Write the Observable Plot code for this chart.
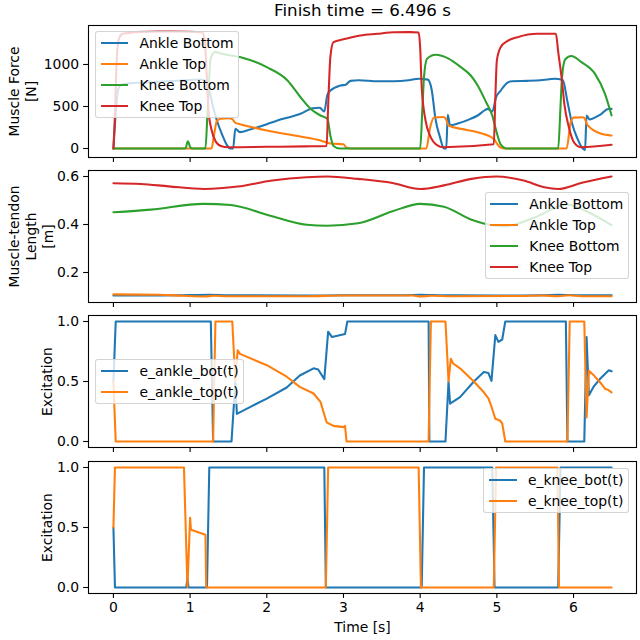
<!DOCTYPE html>
<html><head><meta charset="utf-8">
<script src="https://cdn.jsdelivr.net/npm/d3@7"></script>
<script src="https://cdn.jsdelivr.net/npm/@observablehq/plot@0.6"></script>
<style>
body{margin:0;background:#fff;}
#fig{position:relative;width:640px;height:640px;font-family:"DejaVu Sans",sans-serif;overflow:hidden;}
.panel{position:absolute;left:0;}
.legend{position:absolute;background:rgba(255,255,255,0.8);border:1px solid rgba(204,204,204,0.85);border-radius:3px;padding:0.5px 4.6px;font-size:13.9px;color:#000;white-space:nowrap;}
.row{display:flex;align-items:center;height:21px;}
.handle{width:27.8px;height:2.1px;margin-right:11.1px;flex:none;}
</style></head><body><div id="fig"></div>
<script>
// ---------- data ----------
const title = "Finish time = 6.496 s";
const xTicks = [0, 1, 2, 3, 4, 5, 6];
const forceTicks = [0, 500, 1000];
const lengthTicks = [0.2, 0.4, 0.6];
const excTicks = [0, 0.5, 1.0];
const muscleNames = ["Ankle Bottom", "Ankle Top", "Knee Bottom", "Knee Top"];
const ankleExcNames = ["e_ankle_bot(t)", "e_ankle_top(t)"];
const kneeExcNames = ["e_knee_bot(t)", "e_knee_top(t)"];
const colors = ["#1f77b4", "#ff7f0e", "#2ca02c", "#d62728"];

// Muscle force [N] : [t, F]
const ankleBotForce = [[0,0],[0.03,420],[0.06,700],[0.1,760],[0.2,775],[0.4,785],[0.7,800],[1.0,815],[1.15,822],[1.2,805],[1.25,690],[1.3,490],[1.35,330],[1.42,160],[1.48,40],[1.52,0],[1.56,0],[1.59,235],[1.65,195],[1.78,225],[2.0,290],[2.2,350],[2.44,413],[2.6,480],[2.69,485],[2.75,440],[2.79,640],[2.83,690],[2.96,750],[3.03,760],[3.09,805],[3.2,812],[3.45,800],[3.66,800],[3.85,812],[3.98,830],[4.1,820],[4.15,700],[4.2,350],[4.26,130],[4.31,0],[4.34,0],[4.36,400],[4.39,275],[4.5,300],[4.65,350],[4.75,393],[4.85,460],[4.88,472],[4.94,440],[4.99,610],[5.05,690],[5.14,785],[5.2,800],[5.4,805],[5.6,815],[5.75,830],[5.86,815],[5.92,560],[5.98,300],[6.05,120],[6.11,10],[6.15,-20],[6.17,393],[6.21,345],[6.3,380],[6.36,410],[6.45,470],[6.496,472]];
const ankleTopForce = [[0,0],[1.28,0],[1.31,150],[1.35,330],[1.4,355],[1.5,362],[1.55,350],[1.59,305],[1.65,290],[2.0,214],[2.44,143],[2.7,95],[2.83,60],[3.0,51],[3.04,8],[3.1,0],[4.08,0],[4.13,250],[4.18,370],[4.3,375],[4.33,360],[4.37,274],[4.53,234],[4.75,194],[4.96,115],[5.0,60],[5.05,10],[5.1,0],[5.91,0],[5.96,300],[6.0,368],[6.12,372],[6.15,350],[6.18,280],[6.36,175],[6.496,155]];
const kneeBotForce = [[0,0],[0.94,0],[0.97,87],[1.0,20],[1.02,0],[1.2,0],[1.23,500],[1.27,1080],[1.33,1150],[1.4,1130],[1.66,1087],[2.0,968],[2.27,810],[2.44,610],[2.57,472],[2.7,393],[2.79,353],[2.83,150],[2.87,30],[2.95,0],[4.0,0],[4.03,500],[4.05,850],[4.09,1067],[4.2,1115],[4.37,1070],[4.53,968],[4.66,869],[4.75,750],[4.86,551],[4.94,393],[4.99,218],[5.05,50],[5.13,0],[5.8,0],[5.83,500],[5.85,850],[5.89,1060],[5.97,1100],[6.1,1030],[6.28,889],[6.41,651],[6.496,393]];
const kneeTopForce = [[0,0],[0.02,400],[0.04,1000],[0.07,1300],[0.12,1365],[0.3,1385],[0.6,1392],[1.0,1390],[1.15,1385],[1.19,1300],[1.22,800],[1.24,450],[1.28,220],[1.33,90],[1.4,30],[1.5,15],[2.0,20],[2.5,25],[2.78,30],[2.8,500],[2.83,1100],[2.87,1265],[3.0,1300],[3.11,1325],[3.22,1345],[3.44,1365],[3.66,1384],[3.87,1385],[3.98,1380],[4.0,1200],[4.02,730],[4.07,333],[4.13,150],[4.22,40],[4.3,15],[4.96,50],[4.98,600],[5.0,1047],[5.05,1206],[5.14,1280],[5.27,1325],[5.53,1365],[5.77,1365],[5.8,1150],[5.85,800],[5.88,532],[5.94,250],[6.01,67],[6.1,15],[6.496,44]];

// Muscle-tendon length [m] : [t, L]
const ankleBotLen = [[0,0.104],[0.5,0.104],[1.0,0.106],[1.25,0.107],[1.5,0.105],[2.5,0.104],[3.0,0.105],[3.8,0.105],[4.0,0.107],[4.3,0.105],[5.0,0.104],[5.6,0.105],[5.8,0.107],[6.1,0.105],[6.496,0.105]];
const ankleTopLen = [[0,0.109],[0.6,0.107],[0.9,0.103],[1.2,0.1],[1.3,0.103],[1.5,0.101],[2.5,0.101],[3.0,0.104],[3.5,0.104],[3.9,0.104],[4.0,0.1],[4.15,0.103],[4.4,0.101],[5.3,0.102],[5.6,0.104],[5.8,0.101],[5.95,0.105],[6.1,0.101],[6.496,0.101]];
const kneeBotLen = [[0,0.451],[0.49,0.462],[1.17,0.486],[1.53,0.481],[2.07,0.434],[2.52,0.399],[2.79,0.395],[3.19,0.405],[3.64,0.455],[4.0,0.486],[4.31,0.474],[4.67,0.42],[4.99,0.395],[5.1,0.393],[5.5,0.43],[5.91,0.483],[6.2,0.45],[6.496,0.397]];
const kneeTopLen = [[0,0.572],[0.36,0.569],[0.72,0.559],[1.19,0.548],[1.62,0.558],[2.07,0.583],[2.52,0.597],[2.79,0.6],[3.19,0.59],[3.64,0.573],[4.0,0.548],[4.31,0.563],[4.67,0.59],[4.99,0.6],[5.35,0.583],[5.62,0.555],[5.8,0.548],[6.11,0.574],[6.496,0.6]];

// Excitations : [t, e]
const eAnkleBot = [[0,0.5],[0.03,1],[1.27,1],[1.3,0],[1.54,0],[1.59,0.5],[1.61,0.23],[1.78,0.287],[2.0,0.357],[2.26,0.45],[2.43,0.55],[2.61,0.61],[2.67,0.6],[2.75,0.52],[2.8,0.915],[2.85,0.87],[3.02,0.895],[3.05,1],[4.11,1],[4.12,0],[4.33,0],[4.37,0.5],[4.39,0.315],[4.52,0.37],[4.7,0.5],[4.83,0.58],[4.89,0.57],[4.93,0.505],[4.98,0.887],[5.02,0.83],[5.07,0.85],[5.11,1],[5.9,1],[5.92,0],[6.14,0],[6.17,0.87],[6.2,0.385],[6.26,0.455],[6.35,0.525],[6.46,0.594],[6.496,0.585]];
const eAnkleTop = [[0,0.5],[0.03,0],[1.3,0],[1.33,1],[1.55,1],[1.59,0.5],[1.62,0.76],[1.65,0.73],[2.0,0.636],[2.26,0.54],[2.43,0.455],[2.61,0.4],[2.7,0.33],[2.78,0.16],[2.87,0.13],[3.0,0.12],[3.02,0.13],[3.04,0],[4.11,0],[4.14,1],[4.33,1],[4.37,0.5],[4.4,0.69],[4.43,0.65],[4.52,0.61],[4.7,0.5],[4.83,0.41],[4.89,0.36],[4.93,0.29],[4.98,0.19],[5.04,0.175],[5.07,0.15],[5.11,0],[5.92,0],[5.95,1],[6.14,1],[6.17,0.2],[6.2,0.59],[6.26,0.555],[6.35,0.49],[6.41,0.44],[6.45,0.43],[6.496,0.41]];
const eKneeBot = [[0,0.5],[0.02,0],[0.95,0],[0.965,0.08],[0.98,0],[1.22,0],[1.25,1],[2.75,1],[2.77,0],[4.02,0],[4.05,1],[4.94,1],[4.97,0],[5.8,0],[5.83,1],[6.496,1]];
const eKneeTop = [[0,0.5],[0.02,1],[0.92,1],[0.965,0],[1.0,0.58],[1.01,0.49],[1.02,0.48],[1.2,0.44],[1.21,0],[2.77,0],[2.8,1],[3.98,1],[4.01,0],[4.96,0],[4.99,1],[5.79,1],[5.81,0],[6.496,0]];

// ---------- drawing ----------
const fig = document.getElementById("fig");
const xDomain = [-0.325, 6.821];
const FS = 13.9;

function panel({top, height, mt, mb, yDomain, yTicks, yFmt, series, curve, ylabel, labelDx, showX, extra = []}) {
  const svg = Plot.plot({
    width: 640, height,
    marginLeft: 88, marginRight: 4, marginTop: mt, marginBottom: mb,
    style: {fontFamily: "DejaVu Sans", fontSize: FS + "px", color: "black", background: "transparent", overflow: "visible"},
    x: {domain: xDomain},
    y: {domain: yDomain},
    marks: [
      Plot.axisY({ticks: yTicks, tickFormat: yFmt, tickSize: 4.9, tickPadding: 4.5, fontSize: FS, label: null, strokeWidth: 1.1}),
      Plot.axisX({ticks: xTicks, tickFormat: showX ? (d => String(d)) : (() => ""), tickSize: 4.9, tickPadding: 3.5, fontSize: FS, label: null, strokeWidth: 1.1}),
      ...series.map(s => Plot.line(s.data, {x: d => d[0], y: d => d[1], stroke: s.color, strokeWidth: 2.08, curve})),
      Plot.frame({stroke: "black", strokeWidth: 1.1}),
      Plot.text([ylabel], {text: d => d, frameAnchor: "left", rotate: -90, dx: labelDx, textAnchor: "middle", lineAnchor: "middle", lineHeight: 1.22, fontSize: FS, fill: "black"}),
      ...extra
    ]
  });
  svg.classList.add("panel");
  svg.style.top = top + "px";
  fig.appendChild(svg);
}

function legend(names, pos) {
  const div = document.createElement("div");
  div.className = "legend";
  Object.assign(div.style, pos);
  names.forEach((name, i) => {
    const row = document.createElement("div");
    row.className = "row";
    const h = document.createElement("div");
    h.className = "handle";
    h.style.background = colors[i];
    const t = document.createElement("span");
    t.textContent = name;
    row.appendChild(h); row.appendChild(t);
    div.appendChild(row);
  });
  fig.appendChild(div);
}

const fmt1 = d3.format(".1f");

panel({
  top: 0, height: 163, mt: 25, mb: 6,
  yDomain: [-107, 1464], yTicks: forceTicks, yFmt: d => String(d),
  series: [ankleBotForce, ankleTopForce, kneeBotForce, kneeTopForce].map((data, i) => ({data, color: colors[i]})),
  curve: "monotone-x",
  ylabel: "Muscle Force\n[N]", labelDx: -66.5, showX: false,
  extra: [Plot.text([title], {text: d => d, frameAnchor: "top", dy: -14.5, lineAnchor: "middle", textAnchor: "middle", fontSize: 16.7, fill: "black"})]
});
panel({
  top: 163, height: 145, mt: 7, mb: 6,
  yDomain: [0.075, 0.625], yTicks: lengthTicks, yFmt: fmt1,
  series: [ankleBotLen, ankleTopLen, kneeBotLen, kneeTopLen].map((data, i) => ({data, color: colors[i]})),
  curve: "monotone-x",
  ylabel: "Muscle-tendon\nLength\n[m]", labelDx: -58, showX: false
});
panel({
  top: 308, height: 146, mt: 7, mb: 7,
  yDomain: [-0.05, 1.05], yTicks: excTicks, yFmt: fmt1,
  series: [eAnkleBot, eAnkleTop].map((data, i) => ({data, color: colors[i]})),
  curve: "linear",
  ylabel: "Excitation", labelDx: -41.5, showX: false
});
panel({
  top: 454, height: 186, mt: 7, mb: 47,
  yDomain: [-0.05, 1.05], yTicks: excTicks, yFmt: fmt1,
  series: [eKneeBot, eKneeTop].map((data, i) => ({data, color: colors[i]})),
  curve: "linear",
  ylabel: "Excitation", labelDx: -41.5, showX: true,
  extra: [Plot.text(["Time [s]"], {text: d => d, frameAnchor: "bottom", dy: 34, lineAnchor: "middle", textAnchor: "middle", fontSize: FS, fill: "black"})]
});

legend(muscleNames, {left: "95px", top: "31px"});
legend(muscleNames, {right: "11px", top: "192px"});
legend(ankleExcNames, {left: "95px", top: "359px"});
legend(kneeExcNames, {right: "11px", top: "468px"});
</script></body></html>
